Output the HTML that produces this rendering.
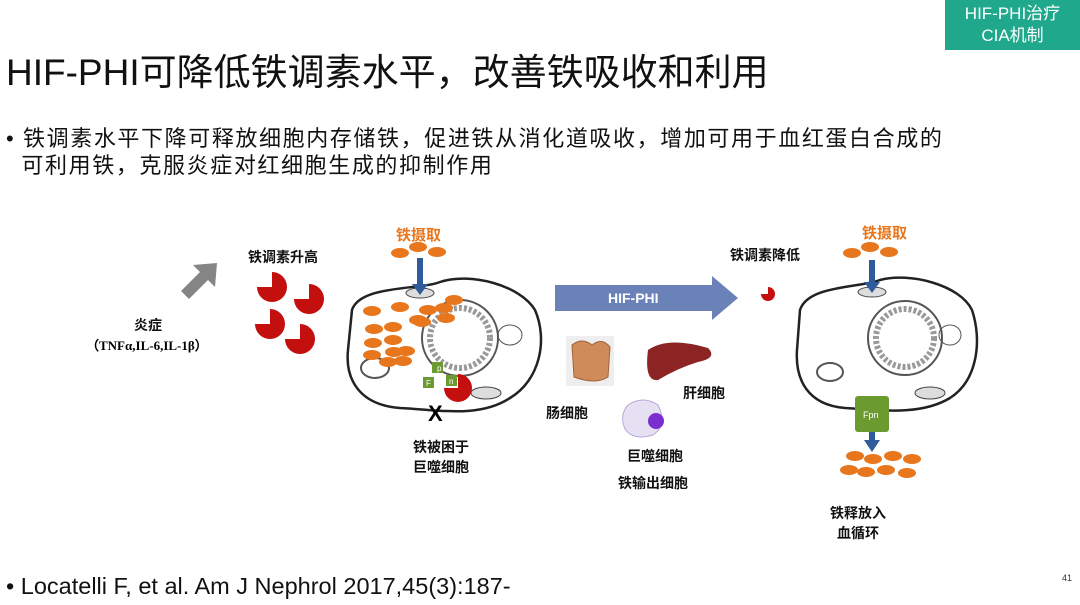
<!DOCTYPE html>
<html><head><meta charset="utf-8"><style>
body{margin:0;width:1080px;height:605px;background:#fff;overflow:hidden;position:relative;font-family:"Liberation Sans","Noto Sans CJK SC",sans-serif}
.t{position:absolute;white-space:nowrap}
.b{font-weight:bold;font-size:14px;color:#111}
</style></head><body>
<div class="t" style="left:945px;top:0;width:135px;height:50px;background:#1fa88c;color:#fff;font-size:17px;line-height:22px;text-align:center;padding-top:3px;box-sizing:border-box">HIF-PHI治疗<br>CIA机制</div>
<div class="t" style="left:6px;top:42px;font-size:37px;color:#111">HIF-PHI可降低铁调素水平，改善铁吸收和利用</div>
<div class="t" style="left:6px;top:125px;font-size:22px;letter-spacing:1.6px;color:#111;line-height:27px">• 铁调素水平下降可释放细胞内存储铁，促进铁从消化道吸收，增加可用于血红蛋白合成的<br>&nbsp;&nbsp;可利用铁，克服炎症对红细胞生成的抑制作用</div>
<div class="t" style="left:6px;top:573px;font-size:23.5px;color:#111">• Locatelli F, et al. Am J Nephrol 2017,45(3):187-</div>
<div class="t" style="left:1062px;top:573px;font-size:9px;color:#333">41</div>

<svg width="1080" height="605" style="position:absolute;left:0;top:0">
<defs>
<g id="pac"><path d="M0,0 L0,-15 A15,15 0 1,1 -15,0 Z" fill="#c40f0f"/></g>
<g id="dot"><ellipse rx="9" ry="5" fill="#e8761c"/></g>
</defs>
<path d="M181,291 L200,272 L193,265 L217,263 L215,287 L208,280 L189,299 Z" fill="#858585"/>
<use href="#pac" x="272" y="287"/><use href="#pac" x="309" y="299"/><use href="#pac" x="270" y="324"/><use href="#pac" x="300" y="339"/>
<path d="M352,310 C360,285 420,290 440,282 C470,272 520,285 535,310 C548,340 540,380 510,398 C480,418 440,410 400,408 C360,405 345,380 348,350 Z" fill="#fff" stroke="#222" stroke-width="2.5"/>
<circle cx="460" cy="338" r="38" fill="#fff" stroke="#555" stroke-width="2"/>
<circle cx="460" cy="338" r="30" fill="none" stroke="#999" stroke-width="6" stroke-dasharray="3 2"/>
<ellipse cx="375" cy="368" rx="14" ry="10" fill="none" stroke="#555" stroke-width="2"/>
<ellipse cx="510" cy="335" rx="12" ry="10" fill="none" stroke="#555"/>
<ellipse cx="420" cy="293" rx="14" ry="5" fill="#ddd" stroke="#444"/>
<ellipse cx="486" cy="393" rx="15" ry="6" fill="#ddd" stroke="#444"/>
<rect x="417" y="258" width="6" height="28" fill="#2f5b9a"/><path d="M412,284 L428,284 L420,295 Z" fill="#2f5b9a"/>
<use href="#dot" x="400" y="253"/><use href="#dot" x="418" y="247"/><use href="#dot" x="437" y="252"/>
<use href="#dot" x="372" y="311"/><use href="#dot" x="400" y="307"/><use href="#dot" x="428" y="310"/><use href="#dot" x="444" y="308"/><use href="#dot" x="454" y="300"/><use href="#dot" x="446" y="318"/><use href="#dot" x="418" y="320"/><use href="#dot" x="422" y="322"/><use href="#dot" x="374" y="329"/><use href="#dot" x="393" y="327"/><use href="#dot" x="373" y="343"/><use href="#dot" x="393" y="340"/><use href="#dot" x="372" y="355"/><use href="#dot" x="394" y="352"/><use href="#dot" x="406" y="351"/><use href="#dot" x="388" y="362"/><use href="#dot" x="403" y="361"/>
<path d="M458,388 L458,374 A14,14 0 1,1 444,388 Z" fill="#c40f0f"/>
<rect x="432" y="362" width="11" height="11" fill="#6a9a30"/><rect x="423" y="377" width="11" height="11" fill="#6a9a30"/><rect x="446" y="375" width="11" height="11" fill="#6a9a30"/>
<text x="437" y="371" font-size="8" fill="#fff" font-family="Liberation Sans">p</text>
<text x="426" y="386" font-size="8" fill="#fff" font-family="Liberation Sans">F</text>
<text x="449" y="384" font-size="8" fill="#fff" font-family="Liberation Sans">n</text>
<text x="428" y="421" font-size="22" font-weight="bold" font-family="Liberation Sans">X</text>
<path d="M555,285 L712,285 L712,276 L738,298 L712,320 L712,311 L555,311 Z" fill="#6a82b8"/>
<text x="608" y="303" font-size="14" font-weight="bold" fill="#fff" font-family="Liberation Sans">HIF-PHI</text>
<path d="M768,294 L768,287 A7,7 0 1,1 761,294 Z" fill="#c40f0f"/>
<rect x="566" y="336" width="48" height="50" fill="#eee"/>
<path d="M572,345 q10,-8 20,0 q10,-8 18,2 l-2,30 q-12,8 -34,0 Z" fill="#cf8c5a" stroke="#a0603a"/>
<path d="M648,350 q20,-14 60,-2 q10,10 -10,14 q-20,6 -40,18 q-14,2 -10,-30 Z" fill="#8c2424"/>
<path d="M628,405 q15,-10 30,0 q10,20 -5,30 q-20,6 -28,-6 q-6,-14 3,-24Z" fill="#e6e0f3" stroke="#b6a8d8"/>
<circle cx="656" cy="421" r="8" fill="#7a2fd0"/>
<path d="M800,310 C808,285 860,288 880,280 C910,272 960,285 972,310 C982,340 978,380 950,398 C920,416 880,410 845,408 C808,405 795,380 797,350 Z" fill="#fff" stroke="#222" stroke-width="2.5"/>
<circle cx="905" cy="338" r="37" fill="#fff" stroke="#555" stroke-width="2"/>
<circle cx="905" cy="338" r="29" fill="none" stroke="#999" stroke-width="6" stroke-dasharray="3 2"/>
<ellipse cx="830" cy="372" rx="13" ry="9" fill="none" stroke="#555" stroke-width="2"/>
<ellipse cx="950" cy="335" rx="11" ry="10" fill="none" stroke="#555"/>
<ellipse cx="872" cy="292" rx="14" ry="5" fill="#ddd" stroke="#444"/>
<ellipse cx="930" cy="393" rx="15" ry="6" fill="#ddd" stroke="#444"/>
<rect x="869" y="260" width="6" height="24" fill="#2f5b9a"/><path d="M864,282 L880,282 L872,293 Z" fill="#2f5b9a"/>
<use href="#dot" x="852" y="253"/><use href="#dot" x="870" y="247"/><use href="#dot" x="889" y="252"/>
<rect x="855" y="396" width="34" height="36" rx="3" fill="#6a9a30"/>
<text x="863" y="418" font-size="9" fill="#fff" font-family="Liberation Sans">Fpn</text>
<rect x="869" y="432" width="6" height="10" fill="#2f5b9a"/><path d="M864,440 L880,440 L872,452 Z" fill="#2f5b9a"/>
<use href="#dot" x="855" y="456"/><use href="#dot" x="873" y="459"/><use href="#dot" x="893" y="456"/><use href="#dot" x="912" y="459"/><use href="#dot" x="849" y="470"/><use href="#dot" x="866" y="472"/><use href="#dot" x="886" y="470"/><use href="#dot" x="907" y="473"/>
</svg>

<div class="t b" style="left:248px;top:247px">铁调素升高</div>
<div class="t b" style="left:134px;top:315px">炎症</div>
<div class="t" style="left:86px;top:335px;font-size:13px;font-weight:bold;font-family:'Liberation Serif',serif">（TNFα,IL-6,IL-1β）</div>
<div class="t" style="left:396px;top:224px;font-size:15px;font-weight:bold;color:#e8761c">铁摄取</div>
<div class="t b" style="left:413px;top:437px;line-height:20px">铁被困于<br>巨噬细胞</div>
<div class="t b" style="left:546px;top:403px">肠细胞</div>
<div class="t b" style="left:683px;top:383px">肝细胞</div>
<div class="t b" style="left:627px;top:446px">巨噬细胞</div>
<div class="t b" style="left:618px;top:473px">铁输出细胞</div>
<div class="t b" style="left:730px;top:245px">铁调素降低</div>
<div class="t" style="left:862px;top:222px;font-size:15px;font-weight:bold;color:#e8761c">铁摄取</div>
<div class="t b" style="left:830px;top:503px;line-height:20px;text-align:center">铁释放入<br>血循环</div>
</body></html>
